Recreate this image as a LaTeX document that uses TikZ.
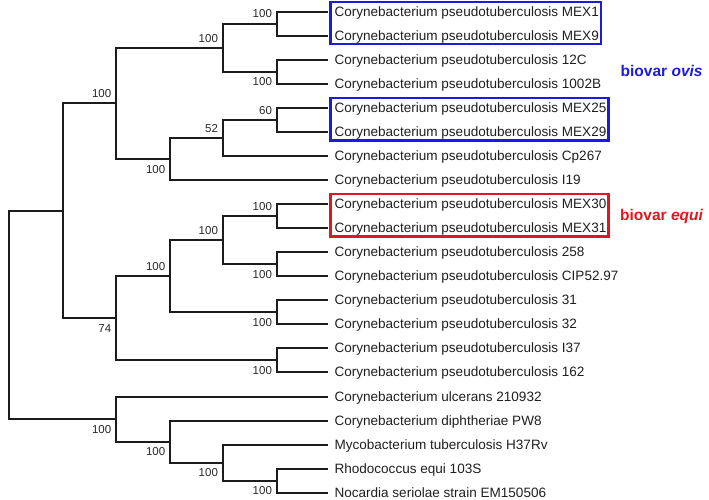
\documentclass[tikz,border=0pt]{standalone}
\usepackage{fontspec}
\setmainfont{Liberation Sans}
\usepackage{xcolor}
\usetikzlibrary{positioning,fit}
\definecolor{ovisblue}{RGB}{28,28,214}
\definecolor{equired}{RGB}{222,24,32}
\definecolor{branchblack}{RGB}{28,28,28}
\definecolor{bootgray}{RGB}{40,40,40}

\begin{document}
\begin{tikzpicture}[x=1pt,y=-1pt,
    taxon/.style={anchor=west,inner xsep=6pt,inner ysep=5.5pt,text height=11pt,text depth=2pt,
                  font=\fontsize{13.55}{16}\selectfont,text=black!88},
    boot/.style={inner sep=0pt,text height=8pt,text depth=0pt,
                 font=\fontsize{11.5}{13}\selectfont,text=bootgray},
    clade/.style={draw=#1,line width=2.4pt,inner xsep=-3pt,inner ysep=-3pt,xshift=-1pt,yshift=0.8pt},
    biovar/.style={anchor=west,inner sep=0pt,text height=11pt,text depth=0pt,
                   font=\fontsize{15.5}{18}\selectfont\bfseries},
    elbow/.style={to path={|- (\tikztotarget)}}]
\useasboundingbox (0,0) rectangle (709,499);

% taxa
\begin{scope}[every node/.style={taxon}]
    \node (mex1)   at (328.3,11.7)   {Corynebacterium pseudotuberculosis MEX1};
    \node (mex9)   at (328.3,35.75)  {Corynebacterium pseudotuberculosis MEX9};
    \node (s12c)   at (328.3,59.8)   {Corynebacterium pseudotuberculosis 12C};
    \node (s1002b) at (328.3,83.85)  {Corynebacterium pseudotuberculosis 1002B};
    \node (mex25)  at (328.3,107.9)  {Corynebacterium pseudotuberculosis MEX25};
    \node (mex29)  at (328.3,131.95) {Corynebacterium pseudotuberculosis MEX29};
    \node (cp267)  at (328.3,156)    {Corynebacterium pseudotuberculosis Cp267};
    \node (i19)    at (328.3,180.05) {Corynebacterium pseudotuberculosis I19};
    \node (mex30)  at (328.3,204.1)  {Corynebacterium pseudotuberculosis MEX30};
    \node (mex31)  at (328.3,228.15) {Corynebacterium pseudotuberculosis MEX31};
    \node (s258)   at (328.3,252.2)  {Corynebacterium pseudotuberculosis 258};
    \node (cip)    at (328.3,276.25) {Corynebacterium pseudotuberculosis CIP52.97};
    \node (s31)    at (328.3,300.3)  {Corynebacterium pseudotuberculosis 31};
    \node (s32)    at (328.3,324.35) {Corynebacterium pseudotuberculosis 32};
    \node (i37)    at (328.3,348.4)  {Corynebacterium pseudotuberculosis I37};
    \node (s162)   at (328.3,372.45) {Corynebacterium pseudotuberculosis 162};
    \node (ulc)    at (328.3,396.5)  {Corynebacterium ulcerans 210932};
    \node (dip)    at (328.3,420.55) {Corynebacterium diphtheriae PW8};
    \node (myc)    at (328.3,444.6)  {Mycobacterium tuberculosis H37Rv};
    \node (rho)    at (328.3,468.65) {Rhodococcus equi 103S};
    \node (noc)    at (328.3,492.7)  {Nocardia seriolae strain EM150506};
\end{scope}

% internal nodes
\coordinate (root) at (9.3,315);
\coordinate (n1)  at (63.3,210.9);
\coordinate (n2)  at (116,103.4);
\coordinate (n3)  at (222.7,47.8);
\coordinate (n4)  at (276.7,23.7);
\coordinate (n5)  at (276.7,71.8);
\coordinate (n6)  at (170,159);
\coordinate (n7)  at (222.7,138);
\coordinate (n8)  at (276.7,119.9);
\coordinate (n9)  at (116,318.4);
\coordinate (n10) at (170,276.3);
\coordinate (n11) at (222.7,240.2);
\coordinate (n12) at (276.7,216.1);
\coordinate (n13) at (276.7,264.2);
\coordinate (n14) at (276.7,312.3);
\coordinate (n15) at (276.7,360.4);
\coordinate (n16) at (116,419.05);
\coordinate (n17) at (170,441.6);
\coordinate (n18) at (222.7,462.6);
\coordinate (n19) at (276.7,480.7);

% branches
\begin{scope}[every edge/.style={draw=branchblack,line width=2pt,elbow}]
    \path (root) edge (n1) edge (n16);
    \path (n1) edge (n2) edge (n9);
    \path (n2) edge (n3) edge (n6);
    \path (n3) edge (n4) edge (n5);
    \path (n4) edge (mex1) edge (mex9);
    \path (n5) edge (s12c) edge (s1002b);
    \path (n6) edge (n7) edge (i19);
    \path (n7) edge (n8) edge (cp267);
    \path (n8) edge (mex25) edge (mex29);
    \path (n9) edge (n10) edge (n15);
    \path (n10) edge (n11) edge (n14);
    \path (n11) edge (n12) edge (n13);
    \path (n12) edge (mex30) edge (mex31);
    \path (n13) edge (s258) edge (cip);
    \path (n14) edge (s31) edge (s32);
    \path (n15) edge (i37) edge (s162);
    \path (n16) edge (ulc) edge (n17);
    \path (n17) edge (dip) edge (n18);
    \path (n18) edge (myc) edge (n19);
    \path (n19) edge (rho) edge (noc);
\end{scope}

% bootstrap values
\begin{scope}[every node/.style={boot}]
    \node[above left=5.6pt and 4.6pt of n2]  (b2)  {100};
    \node[above left=5.6pt and 4.6pt of n3]  (b3)  {100};
    \node[above left=5.6pt and 4.6pt of n4]  (b4)  {100};
    \node[below left=5.8pt and 4.6pt of n5]  (b5)  {100};
    \node[below left=5.8pt and 4.6pt of n6]  (b6)  {100};
    \node[above left=5.6pt and 4.6pt of n7]  (b7)  {52};
    \node[above left=5.6pt and 4.6pt of n8]  (b8)  {60};
    \node[below left=5.8pt and 4.6pt of n9]  (b9)  {74};
    \node[above left=5.6pt and 4.6pt of n10] (b10) {100};
    \node[above left=5.6pt and 4.6pt of n11] (b11) {100};
    \node[above left=5.6pt and 4.6pt of n12] (b12) {100};
    \node[below left=5.8pt and 4.6pt of n13] (b13) {100};
    \node[below left=5.8pt and 4.6pt of n14] (b14) {100};
    \node[below left=5.8pt and 4.6pt of n15] (b15) {100};
    \node[below left=5.8pt and 4.6pt of n16] (b16) {100};
    \node[below left=5.8pt and 4.6pt of n17] (b17) {100};
    \node[below left=5.8pt and 4.6pt of n18] (b18) {100};
    \node[below left=5.8pt and 4.6pt of n19] (b19) {100};
\end{scope}

% biovar boxes
\node[clade=ovisblue,fit=(mex1)(mex9)]   (ovisA) {};
\node[clade=ovisblue,fit=(mex25)(mex29)] (ovisB) {};
\node[clade=equired,fit=(mex30)(mex31)]  (equiA) {};
\node[biovar,text=ovisblue] (ovis) at (620.5,70.5) {biovar \textit{ovis}};
\node[biovar,text=equired]  (equi) at (620,214.5) {biovar \textit{equi}};
\end{tikzpicture}
\end{document}
